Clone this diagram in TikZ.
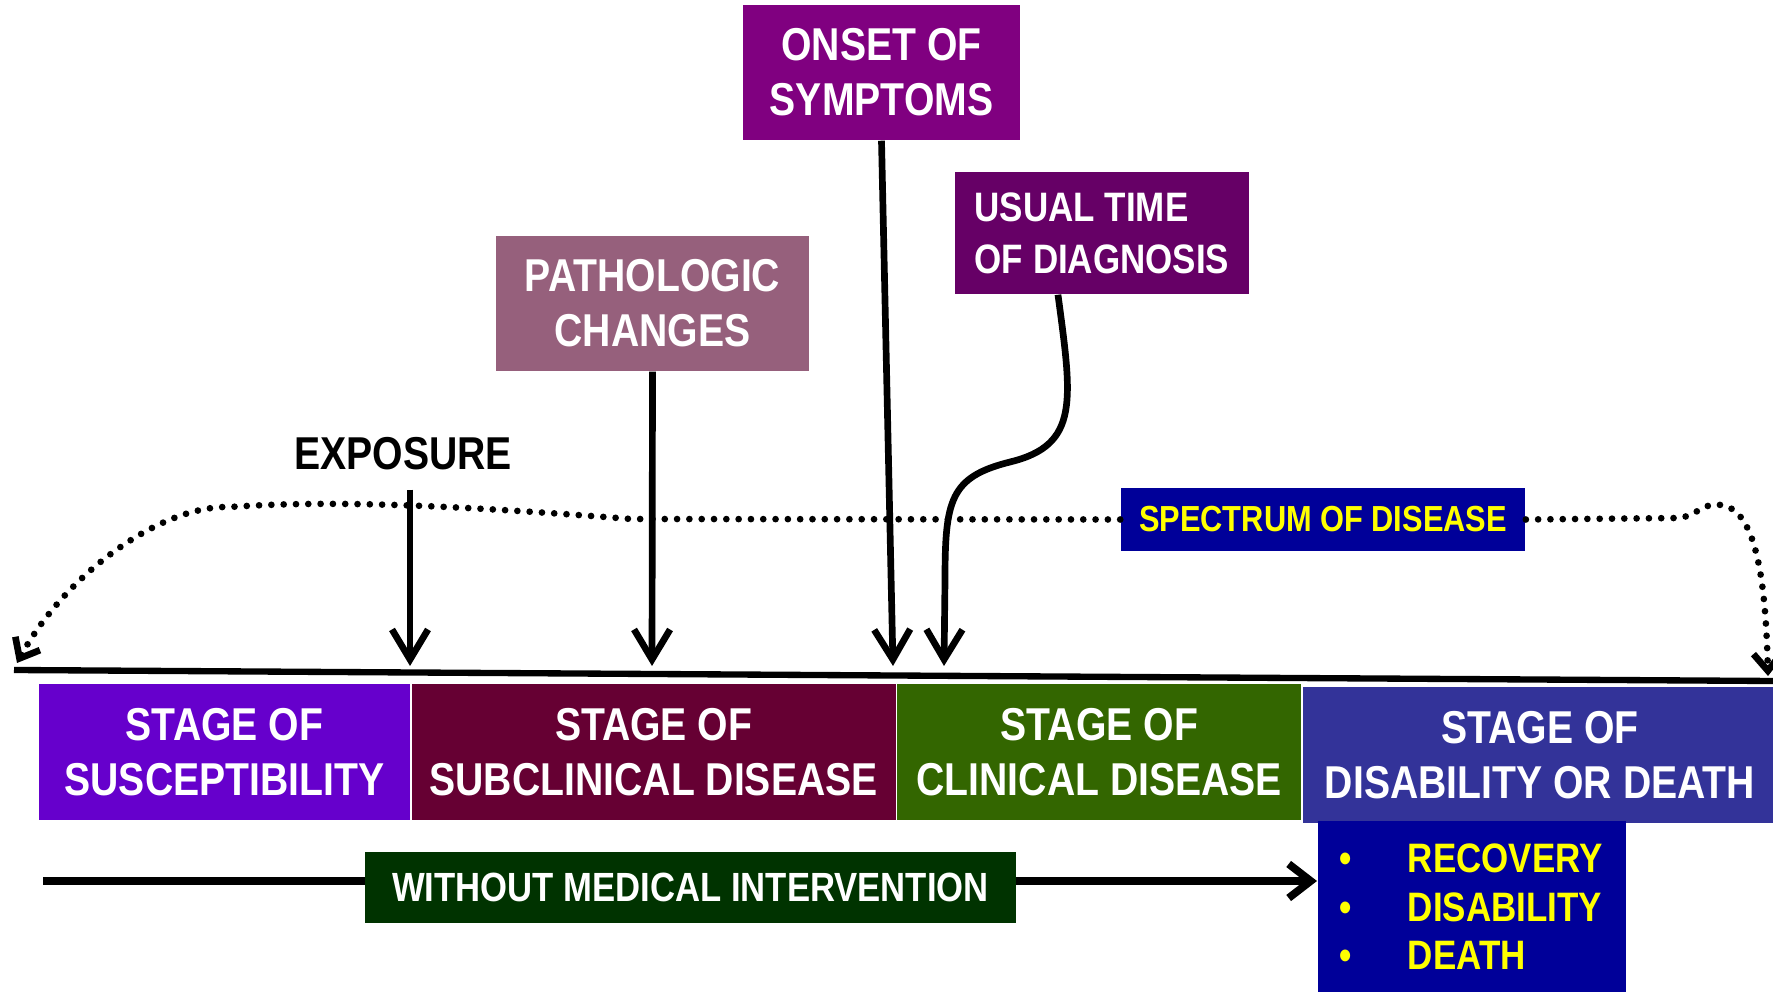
\documentclass[tikz,border=0pt]{standalone}
\usepackage{fontspec}
\setmainfont{Liberation Sans}[FakeStretch=0.85]
\usepackage{tikz}
\usetikzlibrary{arrows.meta,positioning,backgrounds}

\definecolor{suscol}{RGB}{102,0,204}
\definecolor{subcol}{RGB}{102,0,51}
\definecolor{clincol}{RGB}{51,102,0}
\definecolor{disacol}{RGB}{51,51,153}
\definecolor{onsetcol}{RGB}{128,0,128}
\definecolor{pathcol}{RGB}{150,96,124}
\definecolor{diagcol}{RGB}{102,0,102}
\definecolor{navy}{RGB}{0,0,153}
\definecolor{intcol}{RGB}{0,51,0}
\definecolor{hilite}{RGB}{255,255,0}

\begin{document}
\begin{tikzpicture}[
  x=0.01cm, y=-0.01cm,
  big/.style={font=\fontsize{13.1}{15.6}\selectfont\bfseries},
  stage/.style={big, text=white, align=center, inner sep=0pt, minimum height=1.35cm},
  event/.style={big, text=white, align=center, inner sep=0pt, minimum height=1.35cm},
  arr/.style={line width=1.9pt, -{Straight Barb[length=3mm,width=3.6mm]}},
  spec/.style={line width=1.9pt, dash pattern=on 0pt off 3.5pt, line cap=round, -{Straight Barb[length=1.7mm,width=2.8mm]}}
]
\useasboundingbox (0,0) rectangle (1773,992);

\node[stage, fill=suscol, minimum width=3.71cm] (susc) at (224.5,752) {STAGE OF\\SUSCEPTIBILITY};
\node[stage, fill=subcol, minimum width=4.84cm, right=0pt of susc] (subc) {STAGE OF\\SUBCLINICAL DISEASE};
\node[stage, fill=clincol, minimum width=4.04cm, right=0pt of subc] (clin) {STAGE OF\\CLINICAL DISEASE};
\node[stage, fill=disacol, minimum width=4.74cm, minimum height=1.36cm, right=0pt of clin, yshift=-0.03cm] (disa) {STAGE OF\\DISABILITY OR DEATH};

\node[event, fill=onsetcol, minimum width=2.77cm] (onset) at (881.5,72.5) {ONSET OF\\SYMPTOMS};
\node[event, fill=pathcol, minimum width=3.13cm] (patho) at (652.5,303.5) {PATHOLOGIC\\CHANGES};
\node[event, fill=diagcol, minimum width=2.94cm, minimum height=1.22cm, align=left,
  font=\fontsize{11.7}{14.8}\selectfont\bfseries] (diag) at (1102,233) {USUAL TIME\\OF DIAGNOSIS};
\node[big] (expo) at (403,454) {EXPOSURE};

\node[fill=navy, text=hilite, minimum width=4.04cm, minimum height=0.63cm, inner sep=0pt,
  font=\fontsize{10.3}{12}\selectfont\bfseries] (spect) at (1323,519.5) {SPECTRUM OF DISEASE};
\node[fill=intcol, text=white, minimum width=6.51cm, minimum height=0.71cm, inner sep=0pt,
  font=\fontsize{11.6}{14}\selectfont\bfseries] (interv) at (690.5,887.5) {WITHOUT MEDICAL INTERVENTION};
\node[fill=navy, text=hilite, anchor=north west, text width=2.64cm, inner xsep=0.22cm, inner ysep=0pt,
  minimum height=1.72cm, align=left, font=\fontsize{11.7}{13.9}\selectfont\bfseries] (outc) at (1317,820)
  {\makebox[0.68cm][l]{\textbullet}RECOVERY\\\makebox[0.68cm][l]{\textbullet}DISABILITY\\\makebox[0.68cm][l]{\textbullet}DEATH};

\coordinate (axL) at (14,670);
\coordinate (axR) at (1773,681);
\coordinate (hitE) at (410,666);
\coordinate (hitP) at (652,666);
\coordinate (hitO) at (893,666);
\coordinate (hitD) at (944,666);
\coordinate (specL) at (17,663);
\coordinate (specR) at (1768,676);
\coordinate (intL) at (43,881);

\draw[spec] (spect.west) -- (631,519) .. controls (450,505) and (330,500) .. (230,507)
  .. controls (160,505) and (65,575) .. (specL);
\draw[spec] (spect.east) -- (1680,518) .. controls (1700,514) and (1705,500) .. (1725,506)
  .. controls (1760,515) and (1766,600) .. (specR);

\draw[line width=1.8pt] (axL) -- (axR);
\draw[arr] ([yshift=-0.07cm]hitE |- expo.south) -- (hitE);
\draw[arr] (patho.south) -- (hitP);
\draw[arr] (onset.south) -- (hitO);
\draw[arr] ([xshift=-0.44cm]diag.south) .. controls (1072,400) and (1080,445) .. (1010,462)
  .. controls (950,477) and (945,500) .. (945,580) -- (hitD);

\begin{scope}[on background layer]
\draw[line width=2.2pt, -{Straight Barb[length=2.2mm,width=3.4mm]}] (intL) -- (intL -| outc.west);
\end{scope}
\end{tikzpicture}
\end{document}
